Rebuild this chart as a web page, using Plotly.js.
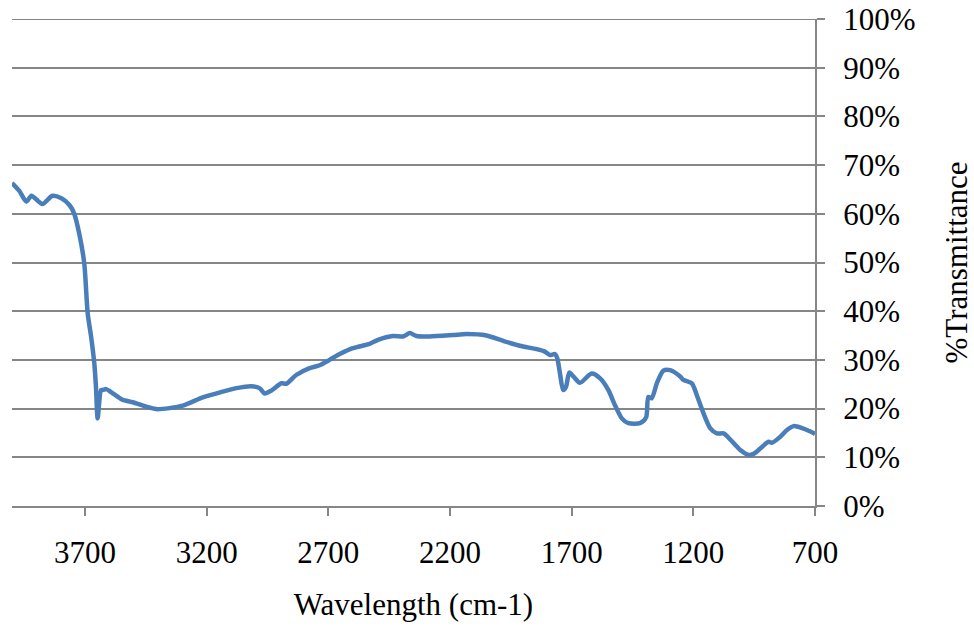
<!DOCTYPE html>
<html>
<head>
<meta charset="utf-8">
<script src="https://cdn.plot.ly/plotly-3.0.1.min.js"></script>
<style>html,body{margin:0;padding:0;background:#fff;}#chart{width:974px;height:630px;}</style>
</head>
<body>
<div id="chart"></div>
<script>
var wavenumber = [4000,3970,3941,3920,3875,3834,3797,3764,3744,3724,3703,3689,3675,3662,3655,3648,3634,3627,3613,3596,3559,3545,3504,3449,3408,3353,3298,3216,3134,3078,3017,2983,2962,2934,2893,2873,2832,2777,2736,2695,2653,2599,2530,2496,2434,2393,2365,2338,2283,2187,2132,2050,1981,1913,1844,1810,1789,1769,1759,1748,1735,1723,1710,1693,1666,1618,1583,1549,1522,1494,1467,1419,1394,1385,1371,1350,1323,1295,1254,1241,1206,1186,1158,1131,1103,1076,1049,1007,973,953,925,891,877,843,815,788,753,719,700];
var transmittance = [66.3,64.7,62.5,63.7,62.0,63.7,63.2,61.8,60.0,56.0,49.8,39.6,34.8,29.4,24.5,18.0,23.8,23.8,24.0,23.5,22.2,21.8,21.3,20.4,19.9,20.1,20.6,22.3,23.5,24.2,24.6,24.2,23.1,23.7,25.2,25.1,26.9,28.3,28.9,30.0,31.2,32.4,33.3,34.1,34.9,34.8,35.5,34.9,34.8,35.1,35.3,35.0,33.9,32.9,32.2,31.7,31.0,31.2,30.3,27.2,23.8,24.5,27.4,26.6,25.3,27.2,26.2,23.8,20.7,18.0,17.0,17.0,18.2,22.4,22.1,25.2,27.8,27.9,26.6,25.9,25.2,22.8,19.0,16.0,14.9,14.9,13.7,11.5,10.5,10.7,11.8,13.2,13.0,14.2,15.6,16.4,16.0,15.3,14.8];
var xTickValues = [3700,3200,2700,2200,1700,1200,700];
var yTickValues = [0,10,20,30,40,50,60,70,80,90,100];

var font = {family: '"Liberation Serif", "Times New Roman", serif', size: 31, color: '#000'};
var grid = '#868686';

var trace = {
  x: wavenumber, y: transmittance, type: 'scatter', mode: 'lines',
  line: {color: '#4A7EBB', width: 4.5, shape: 'spline', smoothing: 0.7},
  hoverinfo: 'skip'
};

var layout = {
  width: 974, height: 630,
  margin: {l: 12, r: 159, t: 19, b: 124},
  paper_bgcolor: '#fff', plot_bgcolor: '#fff',
  showlegend: false,
  font: font,
  shapes: [{type: 'line', xref: 'paper', yref: 'y', x0: 0, x1: 1, y0: 100, y1: 100,
            line: {color: grid, width: 2}, layer: 'below'}],
  xaxis: {
    range: [4000, 700], autorange: false,
    tickmode: 'array', tickvals: xTickValues, ticktext: xTickValues.map(String),
    showgrid: false, zeroline: false,
    showline: true, linecolor: grid, linewidth: 2,
    ticks: 'outside', ticklen: 8, tickwidth: 2, tickcolor: grid,
    tickfont: font, ticklabelstandoff: 10,
    title: {text: 'Wavelength (cm-1)', font: font, standoff: 24}
  },
  yaxis: {
    side: 'right',
    range: [0, 100], autorange: false,
    tickmode: 'array', tickvals: yTickValues, ticktext: yTickValues.map(function(v){return v + '%';}),
    showgrid: true, gridcolor: grid, gridwidth: 2, zeroline: false,
    showline: true, linecolor: grid, linewidth: 2,
    ticks: 'outside', ticklen: 8, tickwidth: 2, tickcolor: grid,
    tickfont: font, ticklabelstandoff: 12,
    title: {text: '%Transmittance', font: font, standoff: 32}
  }
};

Plotly.newPlot('chart', [trace], layout, {displayModeBar: false, staticPlot: true});
</script>
</body>
</html>
